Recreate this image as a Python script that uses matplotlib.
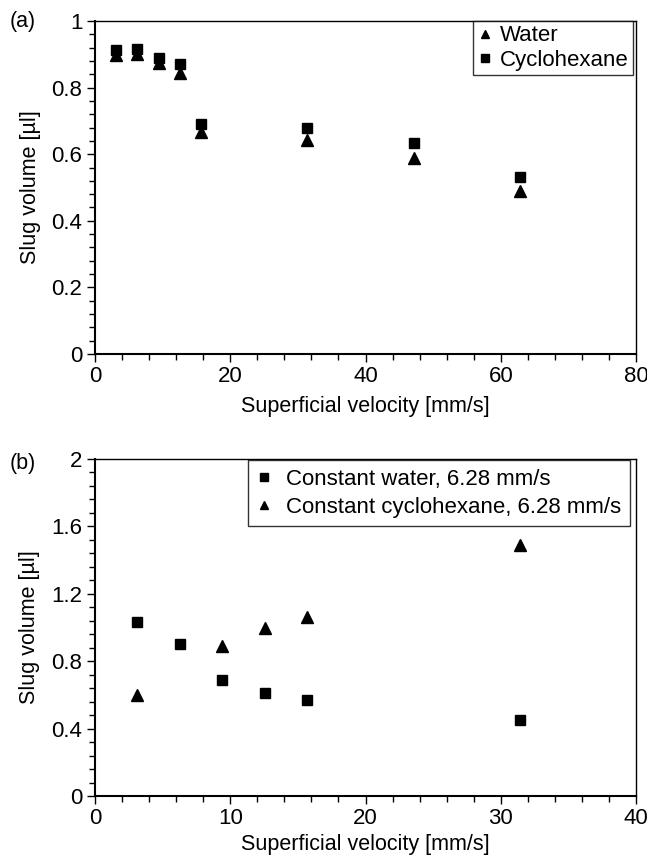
import matplotlib
matplotlib.use("Agg")
import matplotlib.pyplot as plt
from matplotlib.ticker import MultipleLocator

plt.rcParams['font.family'] = ['Liberation Sans', 'DejaVu Sans']

# (a) data
vel_a = [3.14, 6.28, 9.42, 12.56, 15.7, 31.4, 47.1, 62.8]
water_a = [0.898, 0.900, 0.873, 0.843, 0.668, 0.643, 0.589, 0.490]
cyclo_a = [0.912, 0.915, 0.888, 0.870, 0.690, 0.679, 0.633, 0.532]

# (b) data
vel_b_water = [3.14, 6.28, 9.42, 12.56, 15.7, 31.4]
const_water_b = [1.03, 0.905, 0.69, 0.61, 0.57, 0.45]
vel_b_cyclo = [3.14, 9.42, 12.56, 15.7, 31.4]
const_cyclo_b = [0.60, 0.89, 1.00, 1.06, 1.49]

fig = plt.figure(figsize=(6.47, 8.56), dpi=100)
ax1 = fig.add_axes([95/647, 1-354/856, (636-95)/647, (354-21)/856])
ax2 = fig.add_axes([95/647, 1-796/856, (636-95)/647, (796-459)/856])

fs_tick = 16
fs_lab = 15.5
fs_leg = 16

ax1.plot(vel_a, water_a, linestyle='none', marker='^', color='black', markersize=8, label='Water')
ax1.plot(vel_a, cyclo_a, linestyle='none', marker='s', color='black', markersize=7.5, label='Cyclohexane')
ax1.set_xlim(0, 80)
ax1.set_ylim(0, 1)
ax1.xaxis.set_major_locator(MultipleLocator(20))
ax1.xaxis.set_minor_locator(MultipleLocator(4))
ax1.yaxis.set_minor_locator(MultipleLocator(0.04))
ax1.set_yticks([0, 0.2, 0.4, 0.6, 0.8, 1.0])
ax1.set_yticklabels(['0', '0.2', '0.4', '0.6', '0.8', '1'])
ax1.set_xlabel('Superficial velocity [mm/s]', fontsize=fs_lab, labelpad=6)
ax1.set_ylabel('Slug volume [\u00b5l]', fontsize=fs_lab, labelpad=8)
leg1 = ax1.legend(loc='upper right', fontsize=fs_leg, frameon=True, fancybox=False,
                  edgecolor='black', handlelength=0.6, handletextpad=0.4,
                  borderpad=0.2, labelspacing=0.15, markerscale=0.75,
                  borderaxespad=0.0, bbox_to_anchor=(0.995, 1.0))
leg1.get_frame().set_linewidth(1.0)
fig.text(10/647, 1-21/856, '(a)', fontsize=fs_lab, va='center', ha='left')

ax2.plot(vel_b_water, const_water_b, linestyle='none', marker='s', color='black', markersize=7.5,
         label='Constant water, 6.28 mm/s')
ax2.plot(vel_b_cyclo, const_cyclo_b, linestyle='none', marker='^', color='black', markersize=8,
         label='Constant cyclohexane, 6.28 mm/s')
ax2.set_xlim(0, 40)
ax2.set_ylim(0, 2)
ax2.xaxis.set_major_locator(MultipleLocator(10))
ax2.xaxis.set_minor_locator(MultipleLocator(2))
ax2.yaxis.set_minor_locator(MultipleLocator(0.08))
ax2.set_yticks([0, 0.4, 0.8, 1.2, 1.6, 2.0])
ax2.set_yticklabels(['0', '0.4', '0.8', '1.2', '1.6', '2'])
ax2.set_xlabel('Superficial velocity [mm/s]', fontsize=fs_lab, labelpad=3)
ax2.set_ylabel('Slug volume [\u00b5l]', fontsize=fs_lab, labelpad=8)
leg2 = ax2.legend(loc='upper right', fontsize=fs_leg, frameon=True, fancybox=False,
                  edgecolor='black', handlelength=0.6, handletextpad=0.7,
                  borderpad=0.4, labelspacing=0.3, markerscale=0.7,
                  borderaxespad=0.0, bbox_to_anchor=(0.989, 0.997))
leg2.get_frame().set_linewidth(1.0)
fig.text(10/647, 1-464/856, '(b)', fontsize=fs_lab, va='center', ha='left')

for ax in (ax1, ax2):
    ax.tick_params(which='major', direction='out', length=6, width=1.0, labelsize=fs_tick, pad=3)
    ax.tick_params(which='minor', direction='out', length=4, width=1.0)
    for s in ax.spines.values():
        s.set_linewidth(1.0)
    ax.spines['left'].set_linewidth(1.5)
    ax.spines['bottom'].set_linewidth(1.5)

fig.savefig('out.png', dpi=100)
